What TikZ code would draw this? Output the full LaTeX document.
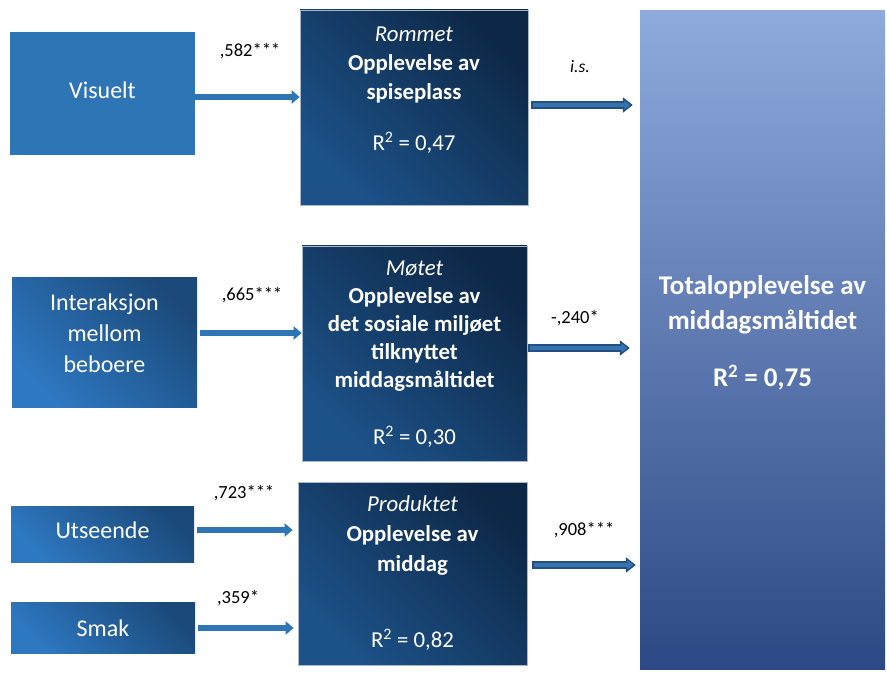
\documentclass[tikz,border=0pt]{standalone}
\usepackage{fontspec}
\setmainfont{Carlito}
\usetikzlibrary{arrows.meta}
\definecolor{lblue}{HTML}{2E75B6}
\definecolor{ldark}{HTML}{1B4A7A}
\definecolor{lbright}{HTML}{2E78C2}
\definecolor{mdark}{HTML}{0D2847}
\definecolor{mlight}{HTML}{1D5289}
\definecolor{mborder}{HTML}{A9B7CC}
\definecolor{bigtop}{HTML}{8FAADC}
\definecolor{bigmid}{HTML}{5579C0}
\definecolor{bigbot}{HTML}{2D4985}
\definecolor{arrdark}{HTML}{23507E}
\definecolor{arrin}{HTML}{3572B0}
\begin{document}
\begin{tikzpicture}[x=1pt,y=-1pt,
  leftbox/.style={fill=lblue, text=white, inner sep=0pt, font=\fontsize{24}{31}\selectfont, align=center},
  gradbox/.style={top color=ldark, bottom color=lbright, shading angle=-45, text=white, inner sep=0pt, font=\fontsize{24}{31}\selectfont, align=center},
  midbox/.style={top color=mdark, bottom color=mlight, shading angle=-45, draw=mborder, line width=0.7pt, inner sep=0pt},
  bigbox/.style={top color=bigtop, middle color=bigmid, bottom color=bigbot, inner sep=0pt},
  midtext/.style={text=white, align=center, font=\fontsize{22.8}{29}\selectfont, inner sep=0pt},
  bigtext/.style={text=white, align=center, font=\fontsize{27}{35}\selectfont\bfseries, inner sep=0pt},
  lbl/.style={text=black, font=\fontsize{18.5}{21}\selectfont, inner sep=0pt},
  larrow/.style={draw=lblue, line width=5.5pt, -{Triangle[length=8pt,width=13pt]}},
  rarrowout/.style={draw=arrdark, line width=8.5pt, -{Triangle[length=10pt,width=15pt]}},
  rarrowin/.style={draw=arrin, line width=4.5pt, -{Triangle[length=6pt,width=9pt]}}
]
\useasboundingbox (0,0) rectangle (887,679);

% left boxes
\node[leftbox, minimum width=185pt, minimum height=123pt] (vis) at (102.5,93.5) {};
\node[text=white, font=\fontsize{24}{31}\selectfont, inner sep=0pt] (vist) at (102.5,90) {Visuelt};
\node[gradbox, minimum width=185pt, minimum height=129pt] (inter) at (104.5,342.5) {};
\node[text=white, align=center, font=\fontsize{24}{31}\selectfont, inner sep=0pt] (intert) at (104.5,333) {Interaksjon\\mellom\\beboere};
\node[gradbox, minimum width=183pt, minimum height=56pt] (uts) at (102.5,534) {};
\node[text=white, font=\fontsize{24}{31}\selectfont, inner sep=0pt] (utst) at (102.5,530) {Utseende};
\node[gradbox, minimum width=184pt, minimum height=51pt] (smak) at (103,628) {};
\node[text=white, font=\fontsize{24}{31}\selectfont, inner sep=0pt] (smakt) at (103,628) {Smak};

% middle boxes
\node[midbox, minimum width=228pt, minimum height=195pt] (rom) at (414,107.5) {};
\node[midtext] (romt) at (414,65) {\textit{Rommet}\\\textbf{Opplevelse av}\\\textbf{spiseplass}};
\node[midtext] (romr) at (414,143) {R\textsuperscript{2} = 0,47};

\node[midbox, minimum width=225pt, minimum height=215pt] (mot) at (414.5,353.5) {};
\node[midtext, font=\fontsize{22.8}{28}\selectfont] (mott) at (414.5,326) {\textit{Møtet}\\\textbf{Opplevelse av}\\\textbf{det sosiale miljøet}\\\textbf{tilknyttet}\\\textbf{middagsmåltidet}};
\node[midtext] (motr) at (414.5,437) {R\textsuperscript{2} = 0,30};

\node[midbox, minimum width=229pt, minimum height=183pt] (prod) at (412.5,573.5) {};
\node[midtext, font=\fontsize{22.8}{30}\selectfont] (prodt) at (412.5,536) {\textit{Produktet}\\\textbf{Opplevelse av}\\\textbf{middag}};
\node[midtext] (prodr) at (412.5,640) {R\textsuperscript{2} = 0,82};

% big box
\node[bigbox, minimum width=245pt, minimum height=658pt] (big) at (762.5,340) {};
\node[bigtext] (bigt) at (762.5,304.5) {Totalopplevelse av\\middagsmåltidet};
\node[bigtext] (bigr) at (762.5,378) {R\textsuperscript{2} = 0,75};

% left arrows
\draw[larrow] (vis.east |- 0,97) -- (rom.west |- 0,97);
\draw[larrow, shorten <=3pt] (inter.east |- 0,333) -- (mot.west |- 0,333);
\draw[larrow, shorten <=3pt, shorten >=5pt] (uts.east |- 0,530) -- (prod.west |- 0,530);
\draw[larrow, shorten <=3pt, shorten >=4pt] (smak.east |- 0,628) -- (prod.west |- 0,628);

% right arrows
\draw[rarrowout, shorten <=3pt, shorten >=7pt] (rom.east |- 0,105) -- (big.west |- 0,105);
\draw[rarrowin, shorten <=4.5pt, shorten >=9.5pt] (rom.east |- 0,105) -- (big.west |- 0,105);
\draw[rarrowout, shorten <=1pt, shorten >=10pt] (mot.east |- 0,348) -- (big.west |- 0,348);
\draw[rarrowin, shorten <=2.5pt, shorten >=12.5pt] (mot.east |- 0,348) -- (big.west |- 0,348);
\draw[rarrowout, shorten <=5pt, shorten >=4pt] (prod.east |- 0,565) -- (big.west |- 0,565);
\draw[rarrowin, shorten <=6.5pt, shorten >=6.5pt] (prod.east |- 0,565) -- (big.west |- 0,565);

% labels
\node[lbl] (l1) at (250,51) {,582***};
\node[lbl] (l2) at (252,295) {,665***};
\node[lbl] (l3) at (244,493) {,723***};
\node[lbl] (l4) at (238,598) {,359*};
\node[lbl, font=\fontsize{17.5}{20}\selectfont\itshape] (l5) at (580,67) {i.s.};
\node[lbl] (l6) at (575,318) {-,240*};
\node[lbl] (l7) at (584,530) {,908***};
\end{tikzpicture}
\end{document}
